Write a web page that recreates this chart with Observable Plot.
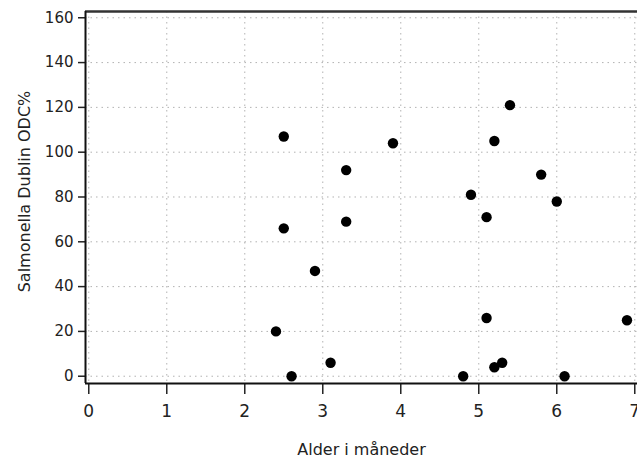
<!DOCTYPE html>
<html><head><meta charset="utf-8">
<script src="https://cdn.jsdelivr.net/npm/d3@7"></script>
<script src="https://cdn.jsdelivr.net/npm/@observablehq/plot@0.6"></script>
<style>
body{margin:0;background:#fff}
#chart svg{font-family:"DejaVu Sans",sans-serif;display:block}
</style>
</head><body><div id="chart"></div>
<script>
const ageMonths = [2.5, 2.5, 2.4, 2.6, 2.9, 3.1, 3.3, 3.3, 3.9, 4.8, 4.9, 5.1, 5.2, 5.4, 5.8, 6.0, 5.1, 5.2, 5.3, 6.1, 6.9];
const odcPct    = [107, 66, 20, 0, 47, 6, 92, 69, 104, 0, 81, 71, 105, 121, 90, 78, 26, 4, 6, 0, 25];
const xTicks = [0, 1, 2, 3, 4, 5, 6, 7];
const yTicks = [0, 20, 40, 60, 80, 100, 120, 140, 160];
const xDomain = [-0.042, 7.035];
const yDomain = [-3.25, 162.8];
const xTitle = "Alder i måneder";
const yTitle = "Salmonella Dublin ODC%";

const data = ageMonths.map((a, i) => ({age: a, odc: odcPct[i]}));

const chart = Plot.plot({
  width: 637,
  height: 464,
  marginLeft: 85,
  marginRight: 0,
  marginTop: 11,
  marginBottom: 81,
  x: {domain: xDomain},
  y: {domain: yDomain},
  marks: [
    Plot.gridX(xTicks, {stroke: "#aaa", strokeOpacity: 0.9, strokeDasharray: "1.5,4"}),
    Plot.gridY(yTicks, {stroke: "#aaa", strokeOpacity: 0.9, strokeDasharray: "1.5,4"}),
    Plot.axisY(yTicks, {tickSize: 7, tickPadding: 5, fontSize: 15, stroke: "#222", strokeWidth: 1.5, fill: "#222", label: null}),
    Plot.axisX(xTicks, {tickSize: 11, tickPadding: 10, fontSize: 17, stroke: "#222", strokeWidth: 1.5, fill: "#222", label: null}),
    Plot.ruleY([yDomain[1]], {stroke: "#333", strokeWidth: 2.5}),
    Plot.ruleY([yDomain[0]], {stroke: "#111", strokeWidth: 2}),
    Plot.ruleX([xDomain[0]], {stroke: "#111", strokeWidth: 2}),
    Plot.dot(data, {x: "age", y: "odc", r: 5.2, fill: "#000", stroke: "none"}),
    Plot.text([xTitle], {frameAnchor: "bottom", dy: 66, fontSize: 16, fill: "#222", lineAnchor: "middle", textAnchor: "middle"}),
    Plot.text([yTitle], {frameAnchor: "left", dx: -61, dy: -6, rotate: -90, fontSize: 16, fill: "#222", lineAnchor: "middle", textAnchor: "middle"})
  ]
});
document.getElementById("chart").appendChild(chart);
</script>
</body></html>
